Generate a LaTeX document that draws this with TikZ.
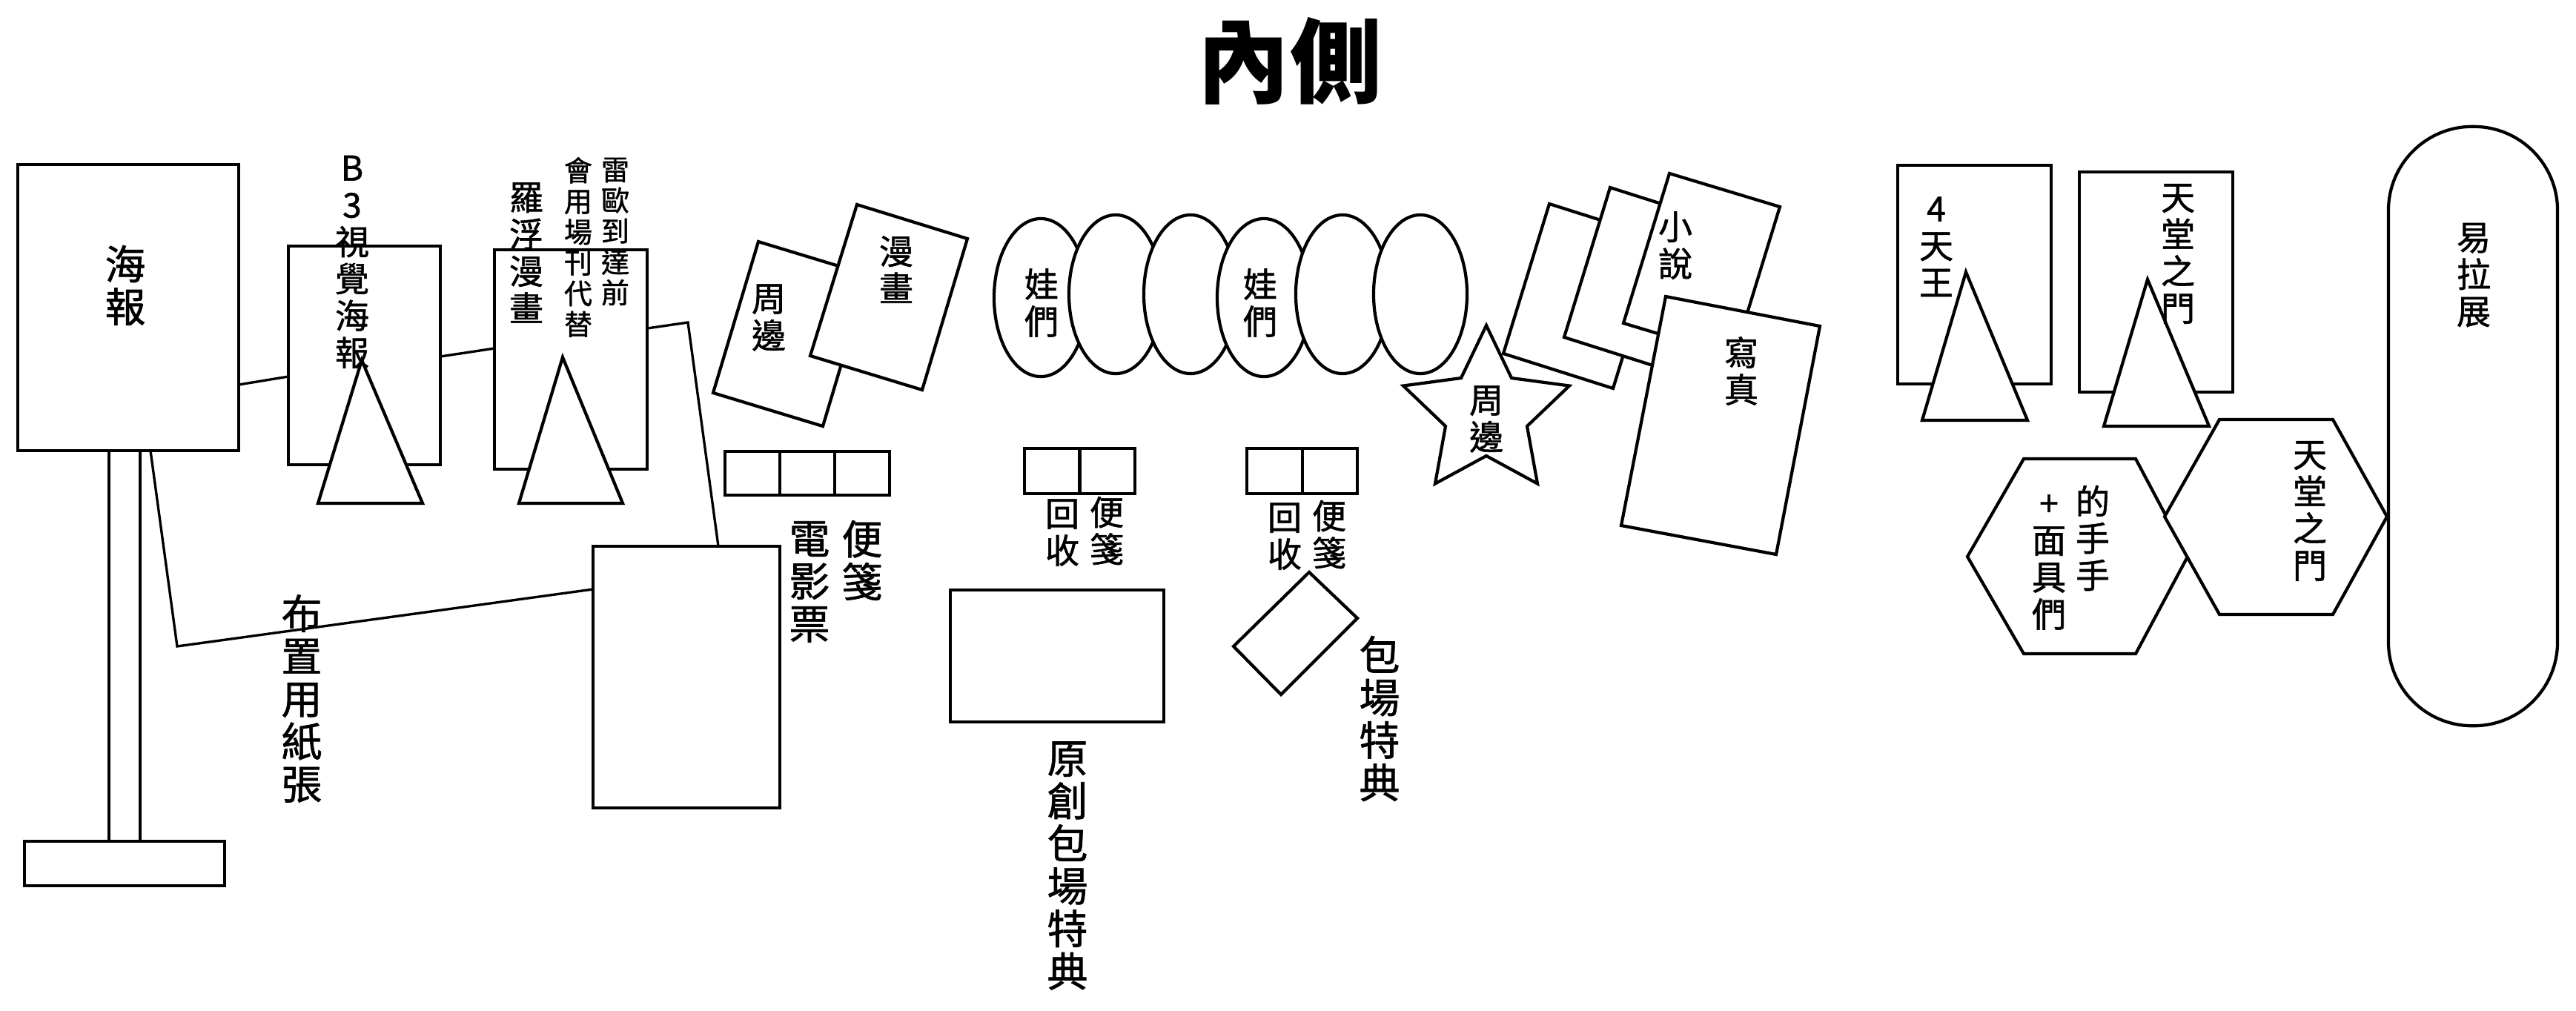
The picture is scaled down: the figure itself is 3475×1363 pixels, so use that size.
\documentclass[tikz,border=0pt]{standalone}
\usepackage{fontspec}
\setmainfont{Noto Sans CJK TC}
\newfontfamily\labfont[FakeBold=1.2]{Noto Sans CJK TC}
\usetikzlibrary{shapes.geometric}
\begin{document}
\begin{tikzpicture}[x=0.01cm,y=-0.01cm,
  shp/.style={draw=black,fill=white,line width=1.2pt,line join=miter},
  box/.style={shp,rectangle,inner sep=0pt,outer sep=0pt},
  oval/.style={shp,ellipse,inner sep=0pt,outer sep=0pt,minimum width=1.26cm},
  conn/.style={draw=black,line width=0.95pt,line join=miter},
  txtS/.style={align=center,inner sep=0pt,font=\labfont\fontsize{13.1pt}{14.2pt}\selectfont},
  txtL/.style={align=center,inner sep=0pt,font=\labfont\fontsize{15.6pt}{16.35pt}\selectfont},
  txtXS/.style={align=center,inner sep=0pt,font=\labfont\fontsize{10.8pt}{11.8pt}\selectfont},
]
\useasboundingbox (0,0) rectangle (3475,1363);
\fill[white] (0,0) rectangle (3475,1363);

% title
\node[font=\fontsize{35.3pt}{36pt}\selectfont\bfseries,inner sep=0pt] (title) at (1740,82) {內側};

% poster stand
\node[box,minimum width=0.42cm,minimum height=5.27cm] (pole) at (168,871.5) {};
\node[box,minimum width=2.70cm,minimum height=0.60cm] (base) at (168,1165) {};
\node[box,minimum width=2.98cm,minimum height=3.86cm] (poster) at (173,415) {};

% B3 board
\node[box,minimum width=2.05cm,minimum height=2.95cm] (bthree) at (491.5,479.5) {};
\draw[shp] (488,486) -- (570,679) -- (429,679) -- cycle;
% Luofu board
\node[box,minimum width=2.06cm,minimum height=2.96cm] (luofu) at (770,485) {};
\draw[shp] (759,482) -- (840,679) -- (700,679) -- cycle;
% big paper
\node[box,minimum width=2.52cm,minimum height=3.53cm] (big) at (926,913.5) {};

% connectors
\coordinate (pR) at (poster.east |- 0,519);
\coordinate (bL) at (bthree.west |- 0,508);
\coordinate (bR) at (bthree.east |- 0,481);
\coordinate (lL) at (luofu.west |- 0,470);
\coordinate (lR) at (luofu.east |- 0,443);
\coordinate (k1) at (928,435);
\coordinate (bigT) at (big.north -| 969,0);
\coordinate (bigL) at (big.west |- 0,795);
\coordinate (k2) at (239,872);
\coordinate (pB) at (poster.south -| 203,0);
\draw[conn] (pR) -- (bL);
\draw[conn] (bR) -- (lL);
\draw[conn] (lR) -- (k1) -- (bigT);
\draw[conn] (bigL) -- (k2) -- (pB);

% tickets
\node[box,minimum width=0.74cm,minimum height=0.59cm] (tk1) at (1015,638.5) {};
\node[box,minimum width=0.74cm,minimum height=0.59cm] (tk2) at (1089,638.5) {};
\node[box,minimum width=0.74cm,minimum height=0.59cm] (tk3) at (1163,638.5) {};

% cards left
\draw[shp] (1023,326) -- (1171,371) -- (1110,575) -- (962,530) -- cycle;
\draw[shp] (1156,276) -- (1305,322) -- (1244,526) -- (1093,480) -- cycle;

% dolls
\node[oval,minimum height=2.13cm] (e1) at (1404,401.5) {};
\node[oval,minimum height=2.14cm] (e2) at (1505,397) {};
\node[oval,minimum height=2.14cm] (e3) at (1606,397) {};
\node[oval,minimum height=2.13cm] (e4) at (1705,401.5) {};
\node[oval,minimum height=2.14cm] (e5) at (1811,397) {};
\node[oval,minimum height=2.14cm] (e6) at (1916,397) {};

% note boxes
\node[box,minimum width=0.745cm,minimum height=0.61cm] (n1a) at (1419.25,635.5) {};
\node[box,minimum width=0.745cm,minimum height=0.61cm] (n1b) at (1493.75,635.5) {};
\node[box,minimum width=0.745cm,minimum height=0.61cm] (n2a) at (1719.5,635.5) {};
\node[box,minimum width=0.745cm,minimum height=0.61cm] (n2b) at (1794,635.5) {};

% original bonus
\node[box,minimum width=2.88cm,minimum height=1.78cm] (orig) at (1426,885) {};
% bonus diamond
\draw[shp] (1766,772) -- (1831,834) -- (1728,937) -- (1664,872) -- cycle;

% cards right
\draw[shp] (2090,275) -- (2238,322) -- (2176,524) -- (2028,477) -- cycle;
\draw[shp] (2172,253) -- (2320,300) -- (2258,502) -- (2110,455) -- cycle;
\draw[shp] (2252,234) -- (2401,279) -- (2339,481) -- (2190,436) -- cycle;
\draw[shp] (2247,400) -- (2455,440) -- (2396,748) -- (2187,709) -- cycle;

% star
\draw[shp] (2005,439) -- (2039,510) -- (2117,520.5) -- (2060,575) -- (2074,652.5)
  -- (2005,615) -- (1936,652.5) -- (1950,575) -- (1893,520.5) -- (1971,510) -- cycle;

% right boards
\node[box,minimum width=2.07cm,minimum height=2.95cm] (four) at (2663.5,370.5) {};
\draw[shp] (2652,367) -- (2735,567) -- (2593,567) -- cycle;
\node[box,minimum width=2.07cm,minimum height=2.97cm] (gate) at (2908.5,380.5) {};
\draw[shp] (2897,377) -- (2980,575) -- (2838,575) -- cycle;

% hexagons
\draw[shp] (2730,619) -- (2881,619) -- (2951,751) -- (2881,882) -- (2730,882) -- (2654,751) -- cycle;
\draw[shp] (2994,566) -- (3147,566) -- (3220,697) -- (3147,829) -- (2994,829) -- (2920,697) -- cycle;

% roll-up banner
\node[box,rounded corners=1.13cm,minimum width=2.28cm,minimum height=8.08cm] (yila) at (3336,575) {};

% texts
\node[txtL] (tPoster) at (169,385) {海\\報};
\node[txtS] (tB3) at (475,351) {\vphantom{報}B\\\vphantom{報}3\\視\\覺\\海\\報};
\node[txtS] (tLuofu) at (710,341) {羅\\浮\\漫\\畫};
\node[txtXS] (tHui) at (780,333.5) {會\\用\\場\\刊\\代\\替};
\node[txtXS] (tLei) at (830,312.5) {雷\\歐\\到\\達\\前};
\node[txtS] (tZhou1) at (1037,428.5) {周\\邊};
\node[txtS] (tMan) at (1209,363.5) {漫\\畫};
\node[txtL] (tDian) at (1092,785) {電\\影\\票};
\node[txtL] (tBian0) at (1163,756) {便\\箋};
\node[txtL] (tBuzhi) at (407,942.5) {布\\置\\用\\紙\\張};
\node[txtS] (tWa1) at (1405,408.5) {娃\\們};
\node[txtS] (tWa2) at (1700,408.5) {娃\\們};
\node[txtS] (tHui1) at (1433,718.5) {回\\收};
\node[txtS] (tBian1) at (1493,716) {便\\箋};
\node[txtS] (tHui2) at (1733,723.5) {回\\收};
\node[txtS] (tBian2) at (1793,721) {便\\箋};
\node[txtL] (tYuan) at (1440,1168) {原\\創\\包\\場\\特\\典};
\node[txtL] (tBao) at (1861,969.5) {包\\場\\特\\典};
\node[txtS] (tZhou2) at (2005,565.5) {周\\邊};
\node[txtS] (tXiao) at (2260,331) {小\\說};
\node[txtS] (tXie) at (2349,500.5) {寫\\真};
\node[txtS] (tFour) at (2612,331.5) {\vphantom{王}4\\天\\王};
\node[txtS] (tTian1) at (2938,342.5) {天\\堂\\之\\門};
\node[txtS] (tShou) at (2823,726) {的\\手\\手};
\node[txtS] (tMian) at (2764,755) {\vphantom{面}+\\面\\具\\們};
\node[txtS] (tTian2) at (3116,689.5) {天\\堂\\之\\門};
\node[txtS] (tYi) at (3337,371) {易\\拉\\展};
\end{tikzpicture}
\end{document}
